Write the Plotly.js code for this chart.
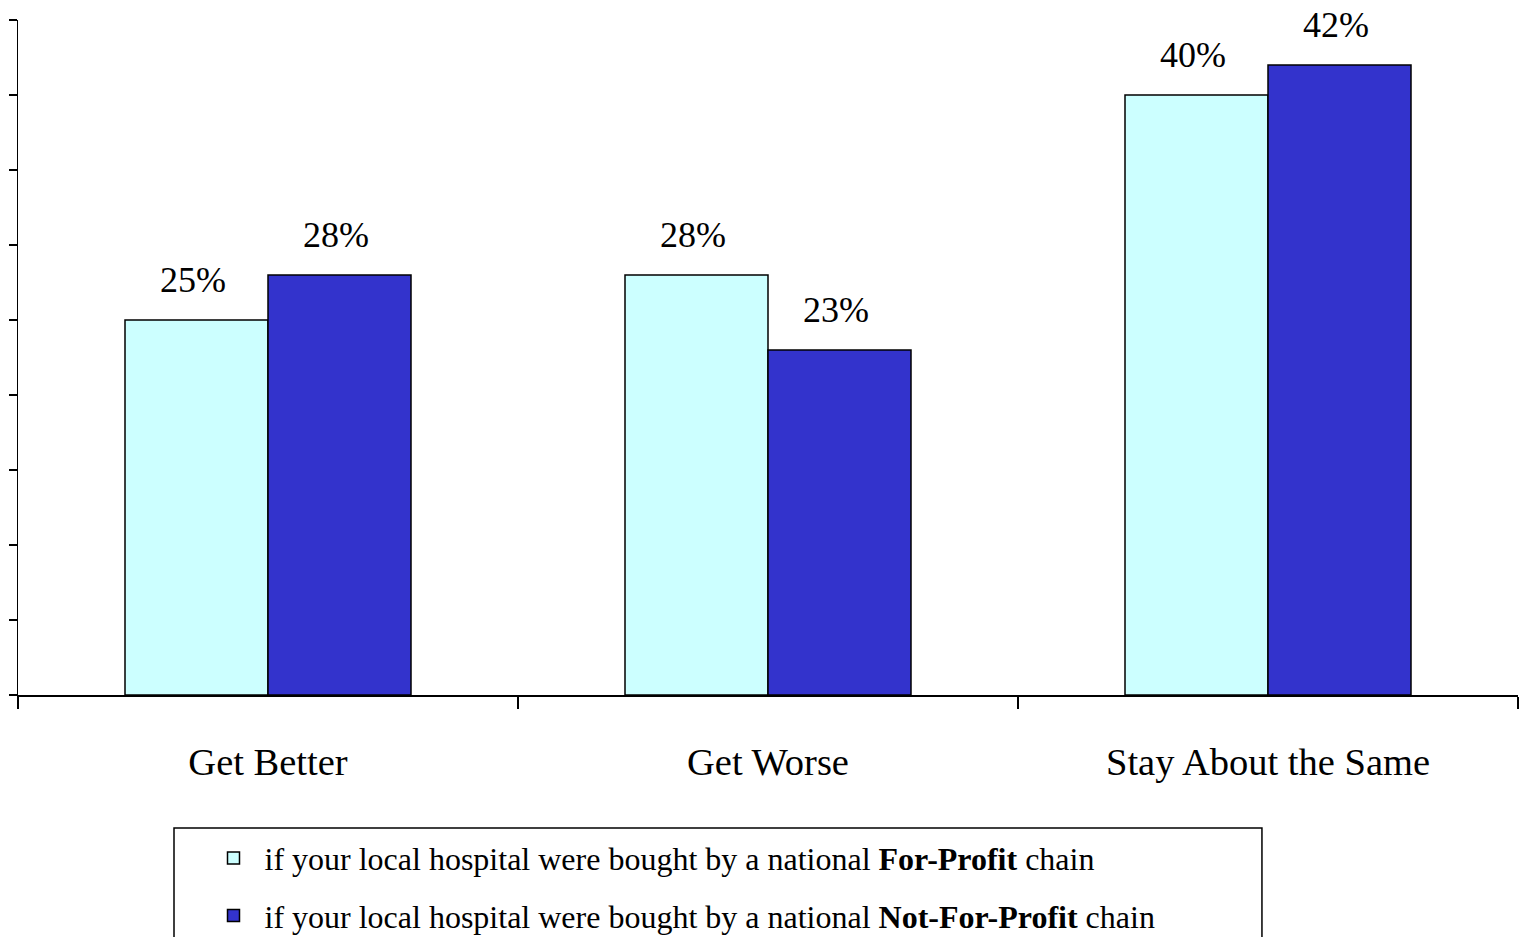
<!DOCTYPE html>
<html>
<head>
<meta charset="utf-8">
<script src="https://cdn.plot.ly/plotly-3.0.1.min.js"></script>
<style>html,body{margin:0;padding:0;background:#fff;}#chart{width:1531px;height:937px;}</style>
</head>
<body>
<div id="chart"></div>
<script>
const categories = ["Get Better", "Get Worse", "Stay About the Same"];
const forProfit = [25, 28, 40];
const notForProfit = [28, 23, 42];
const seriesNames = [
  "if your local hospital were bought by a national <b>For-Profit</b> chain",
  "if your local hospital were bought by a national <b>Not-For-Profit</b> chain"
];
const seriesColors = ["#CCFFFF", "#3333CC"];

const FONT = "Liberation Serif";

const traces = [forProfit, notForProfit].map((vals, i) => ({
  type: "bar",
  x: categories,
  y: vals,
  name: seriesNames[i],
  legendgroup: "g" + i,
  marker: {color: seriesColors[i], line: {color: "#000", width: 1.5}},
  hoverinfo: "skip"
}));

const annotations = [];
[forProfit, notForProfit].forEach((vals, i) => {
  vals.forEach((v, j) => {
    annotations.push({
      x: categories[j], y: v, xref: "x", yref: "y",
      text: v + "%", showarrow: false,
      xanchor: "center", yanchor: "bottom",
      xshift: (i === 0 ? -75 : 68), yshift: 18,
      font: {family: FONT, size: 36, color: "#000"}
    });
  });
});

const layout = {
  width: 1531, height: 937,
  margin: {l: 18, r: 13, t: 20, b: 242, autoexpand: false},
  paper_bgcolor: "#fff", plot_bgcolor: "#fff",
  barmode: "group", bargap: 0.428, bargroupgap: 0,
  font: {family: FONT, color: "#000"},
  xaxis: {
    type: "category", range: [-0.5, 2.5],
    showline: true, linecolor: "#000", linewidth: 2,
    ticks: "outside", ticklen: 12, tickwidth: 1.5, tickcolor: "#000",
    tickson: "boundaries", ticklabelstandoff: 32,
    tickfont: {family: FONT, size: 38.5, color: "#000"},
    showgrid: false, zeroline: false, fixedrange: true
  },
  yaxis: {
    range: [0, 45], dtick: 5, tick0: 0,
    showline: true, linecolor: "#000", linewidth: 1.5,
    ticks: "outside", ticklen: 8, tickwidth: 1.5, tickcolor: "#000",
    showticklabels: false, showgrid: false, zeroline: false, fixedrange: true
  },
  showlegend: true,
  legend: {
    x: 0.123, xanchor: "left", y: -0.201, yanchor: "top",
    bgcolor: "rgba(0,0,0,0)", borderwidth: 0,
    traceorder: "grouped", tracegroupgap: 13, itemwidth: 52,
    font: {family: FONT, size: 32, color: "#000"},
    itemclick: false, itemdoubleclick: false
  },
  shapes: [{
    type: "rect", xref: "paper", yref: "paper",
    x0: 0.104, x1: 0.8293, y0: -0.197, y1: -0.45,
    line: {color: "#000", width: 1.5}, fillcolor: "rgba(0,0,0,0)"
  }],
  annotations: annotations
};

Plotly.newPlot("chart", traces, layout, {displayModeBar: false, staticPlot: true});
</script>
</body>
</html>
